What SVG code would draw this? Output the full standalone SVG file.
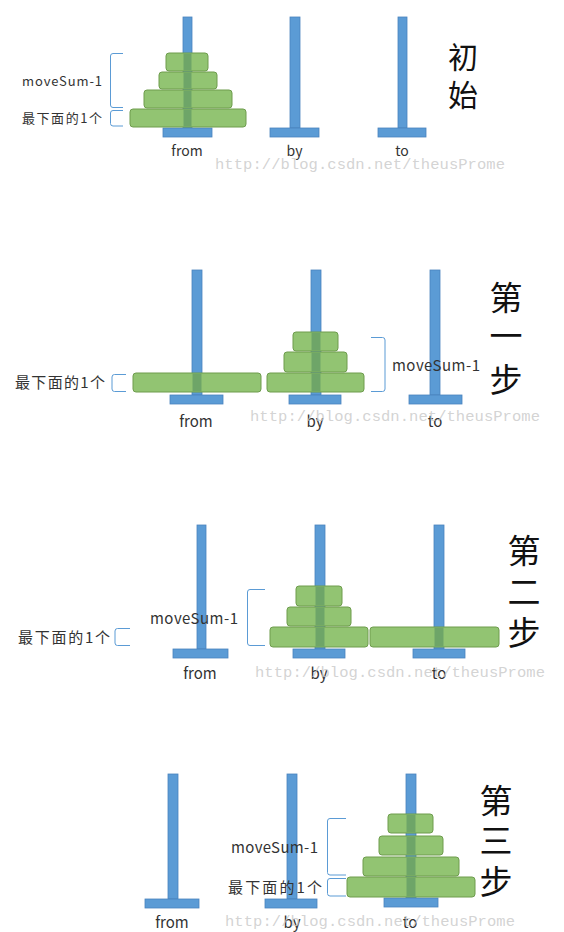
<svg xmlns="http://www.w3.org/2000/svg" width="564" height="932" viewBox="0 0 564 932">
<style>
.pole{fill:#5b9bd5;stroke:#4a83bd;stroke-width:0.8}
.disk{fill:#92c472;stroke:#6e9c4d;stroke-width:1}
.ov{fill:#6ea568}
.br{fill:none;stroke:#5b9bd5;stroke-width:1}
.lb{font-family:"Noto Sans CJK SC","Open Sans",sans-serif;fill:#333}
.t{font-family:"Noto Sans CJK SC",sans-serif;fill:#111}
.wm{font-family:"Liberation Mono",monospace;fill:#c8c8c8;fill-opacity:0.8}
</style>
<rect width="564" height="932" fill="#fff"/>

<!-- Panel 1 -->
<g id="panel1">
  <g id="p1-from"><rect class="pole" x="183" y="17" width="9" height="111"/><rect class="pole" x="163" y="128" width="49" height="9"/></g>
  <g id="p1-by"><rect class="pole" x="290" y="17" width="10" height="111"/><rect class="pole" x="270" y="128" width="49" height="9"/></g>
  <g id="p1-to"><rect class="pole" x="398" y="17" width="9" height="111"/><rect class="pole" x="378" y="128" width="48" height="9"/></g>
  <g id="p1-d1"><rect class="disk" x="166" y="53" width="42" height="18" rx="3"/><rect class="ov" x="183.5" y="53.5" width="8" height="17"/></g>
  <g id="p1-d2"><rect class="disk" x="159" y="72" width="58" height="17" rx="3"/><rect class="ov" x="183.5" y="72.5" width="8" height="16"/></g>
  <g id="p1-d3"><rect class="disk" x="144" y="90" width="88" height="18" rx="3"/><rect class="ov" x="183.5" y="90.5" width="8" height="17"/></g>
  <g id="p1-d4"><rect class="disk" x="130" y="109" width="116" height="18" rx="3"/><rect class="ov" x="183.5" y="109.5" width="8" height="17"/></g>
  <path class="br" d="M123,53.5 H113 Q110.5,53.5 110.5,56 V105 Q110.5,107.5 113,107.5 H123"/>
  <path class="br" d="M123,110.5 H113 Q110.5,110.5 110.5,113 V123.5 Q110.5,126 113,126 H123"/>
  <text class="lb" x="22" y="86" font-size="13" textLength="80">moveSum-1</text>
  <text class="lb" x="22" y="123" font-size="13" textLength="80">最下面的1个</text>
  <text class="lb" x="187" y="156" font-size="14" text-anchor="middle">from</text>
  <text class="lb" x="294.5" y="156" font-size="14" text-anchor="middle">by</text>
  <text class="lb" x="402" y="156" font-size="14" text-anchor="middle">to</text>
  <text class="t" x="463" y="68" font-size="30" text-anchor="middle">初</text>
  <text class="t" x="463" y="106" font-size="30" text-anchor="middle">始</text>
</g>

<!-- Panel 2 -->
<g id="panel2">
  <g id="p2-from"><rect class="pole" x="192" y="270" width="10" height="125"/><rect class="pole" x="170" y="395" width="53" height="9"/></g>
  <g id="p2-by"><rect class="pole" x="311" y="270" width="10" height="125"/><rect class="pole" x="289" y="395" width="52" height="9"/></g>
  <g id="p2-to"><rect class="pole" x="430" y="270" width="10" height="125"/><rect class="pole" x="409" y="395" width="53" height="9"/></g>
  <g id="p2-d4"><rect class="disk" x="133" y="373" width="128" height="19" rx="3"/><rect class="ov" x="192.5" y="373.5" width="9" height="18"/></g>
  <g id="p2-d1"><rect class="disk" x="293" y="332" width="45" height="19" rx="3"/><rect class="ov" x="311.5" y="332.5" width="9" height="18"/></g>
  <g id="p2-d2"><rect class="disk" x="284" y="352" width="63" height="20" rx="3"/><rect class="ov" x="311.5" y="352.5" width="9" height="19"/></g>
  <g id="p2-d3"><rect class="disk" x="267" y="373" width="97" height="19" rx="3"/><rect class="ov" x="311.5" y="373.5" width="9" height="18"/></g>
  <path class="br" d="M126,374.5 H114.5 Q112,374.5 112,377 V389 Q112,391.5 114.5,391.5 H126"/>
  <path class="br" d="M371,337.5 H382.5 Q385,337.5 385,340 V389 Q385,391.5 382.5,391.5 H371"/>
  <text class="lb" x="15" y="388" font-size="15" textLength="90">最下面的1个</text>
  <text class="lb" x="392" y="371" font-size="15" textLength="88">moveSum-1</text>
  <text class="lb" x="196" y="427" font-size="15" text-anchor="middle">from</text>
  <text class="lb" x="315" y="427" font-size="15" text-anchor="middle">by</text>
  <text class="lb" x="435" y="427" font-size="15" text-anchor="middle">to</text>
  <text class="t" x="506" y="310" font-size="33" text-anchor="middle">第</text>
  <text class="t" x="506" y="348" font-size="33" text-anchor="middle">一</text>
  <text class="t" x="506" y="392" font-size="33" text-anchor="middle">步</text>
</g>

<!-- Panel 3 -->
<g id="panel3">
  <g id="p3-from"><rect class="pole" x="197" y="525" width="9" height="124"/><rect class="pole" x="173" y="649" width="55" height="9"/></g>
  <g id="p3-by"><rect class="pole" x="315" y="525" width="10" height="124"/><rect class="pole" x="293" y="649" width="52" height="9"/></g>
  <g id="p3-to"><rect class="pole" x="434" y="525" width="10" height="124"/><rect class="pole" x="413" y="649" width="52" height="9"/></g>
  <g id="p3-d1"><rect class="disk" x="296" y="586" width="46" height="20" rx="3"/><rect class="ov" x="315.5" y="586.5" width="9" height="19"/></g>
  <g id="p3-d2"><rect class="disk" x="287" y="607" width="64" height="19" rx="3"/><rect class="ov" x="315.5" y="607.5" width="9" height="18"/></g>
  <g id="p3-d3"><rect class="disk" x="270" y="627" width="98" height="20" rx="3"/><rect class="ov" x="315.5" y="627.5" width="9" height="19"/></g>
  <g id="p3-d4"><rect class="disk" x="370" y="627" width="129" height="20" rx="3"/><rect class="ov" x="434.5" y="627.5" width="9" height="19"/></g>
  <path class="br" d="M130,628.5 H117.5 Q115,628.5 115,631 V643 Q115,645.5 117.5,645.5 H130"/>
  <path class="br" d="M265,589.5 H250 Q247.5,589.5 247.5,592 V643 Q247.5,645.5 250,645.5 H265"/>
  <text class="lb" x="18" y="643" font-size="15" textLength="92">最下面的1个</text>
  <text class="lb" x="150" y="624" font-size="15" textLength="88">moveSum-1</text>
  <text class="lb" x="200" y="679" font-size="15" text-anchor="middle">from</text>
  <text class="lb" x="319" y="679" font-size="15" text-anchor="middle">by</text>
  <text class="lb" x="439" y="679" font-size="15" text-anchor="middle">to</text>
  <text class="t" x="524" y="563" font-size="33" text-anchor="middle">第</text>
  <text class="t" x="524" y="604" font-size="33" text-anchor="middle">二</text>
  <text class="t" x="524" y="645" font-size="33" text-anchor="middle">步</text>
</g>

<!-- Panel 4 -->
<g id="panel4">
  <g id="p4-from"><rect class="pole" x="168" y="774" width="10" height="125"/><rect class="pole" x="145" y="899" width="54" height="9"/></g>
  <g id="p4-by"><rect class="pole" x="287" y="774" width="10" height="125"/><rect class="pole" x="265" y="899" width="52" height="9"/></g>
  <g id="p4-to"><rect class="pole" x="406" y="774" width="10" height="124"/><rect class="pole" x="384" y="898" width="54" height="9"/></g>
  <g id="p4-d1"><rect class="disk" x="388" y="814" width="45" height="19" rx="3"/><rect class="ov" x="406.5" y="814.5" width="9" height="18"/></g>
  <g id="p4-d2"><rect class="disk" x="379" y="836" width="64" height="19" rx="3"/><rect class="ov" x="406.5" y="836.5" width="9" height="18"/></g>
  <g id="p4-d3"><rect class="disk" x="363" y="857" width="96" height="19" rx="3"/><rect class="ov" x="406.5" y="857.5" width="9" height="18"/></g>
  <g id="p4-d4"><rect class="disk" x="347" y="877" width="128" height="20" rx="3"/><rect class="ov" x="406.5" y="877.5" width="9" height="19"/></g>
  <path class="br" d="M346,818.5 H330 Q327.5,818.5 327.5,821 V872.5 Q327.5,875 330,875 H346"/>
  <path class="br" d="M346,878.5 H330 Q327.5,878.5 327.5,881 V893.5 Q327.5,896 330,896 H346"/>
  <text class="lb" x="231" y="853" font-size="15" textLength="87">moveSum-1</text>
  <text class="lb" x="228" y="893" font-size="15" textLength="94">最下面的1个</text>
  <text class="lb" x="172" y="928" font-size="15" text-anchor="middle">from</text>
  <text class="lb" x="292" y="928" font-size="15" text-anchor="middle">by</text>
  <text class="lb" x="410" y="928" font-size="15" text-anchor="middle">to</text>
  <text class="t" x="496" y="813" font-size="33" text-anchor="middle">第</text>
  <text class="t" x="496" y="853" font-size="33" text-anchor="middle">三</text>
  <text class="t" x="496" y="894" font-size="33" text-anchor="middle">步</text>
</g>

<!-- Watermarks -->
<g id="watermarks">
  <text class="wm" x="215" y="169" font-size="15.5" textLength="290">http://blog.csdn.net/theusProme</text>
  <text class="wm" x="250" y="421" font-size="15.5" textLength="290">http://blog.csdn.net/theusProme</text>
  <text class="wm" x="255" y="677" font-size="15.5" textLength="290">http://blog.csdn.net/theusProme</text>
  <text class="wm" x="225" y="926" font-size="15.5" textLength="290">http://blog.csdn.net/theusProme</text>
</g>
</svg>
